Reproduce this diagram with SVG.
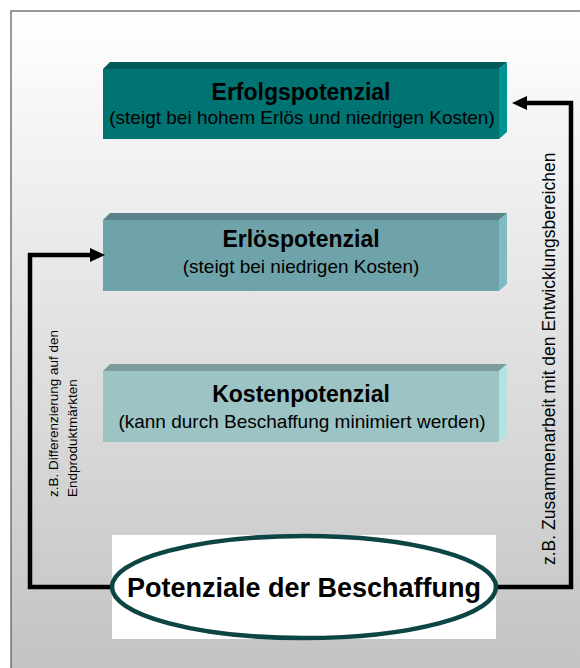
<svg xmlns="http://www.w3.org/2000/svg" width="580" height="668" viewBox="0 0 580 668">
  <defs>
    <linearGradient id="bg" x1="0" y1="0" x2="0" y2="1">
      <stop offset="0" stop-color="#ffffff"/>
      <stop offset="1" stop-color="#bfbfbf"/>
    </linearGradient>
    <marker id="arrow" markerUnits="userSpaceOnUse" markerWidth="16" markerHeight="16" refX="7" refY="7" orient="auto">
      <path d="M0,0 L15,7 L0,14 z" fill="#000"/>
    </marker>
    <style>
      .title { font-family: "Liberation Sans", Arial, sans-serif; font-weight: bold; font-size: 23px; fill: #000; text-anchor: middle; }
      .ell { font-family: "Liberation Sans", Arial, sans-serif; font-weight: bold; font-size: 27px; fill: #000; text-anchor: middle; }
      .sub { font-family: "Liberation Sans", Arial, sans-serif; font-size: 19px; fill: #000; text-anchor: middle; }
      .lbl { font-family: "Liberation Sans", Arial, sans-serif; fill: #000; }
      .conn { fill: none; stroke: #000; stroke-width: 4.5; }
    </style>
  </defs>
  <rect x="0" y="0" width="580" height="668" fill="#ffffff"/>
  <rect x="11" y="11" width="600" height="700" fill="url(#bg)" stroke="#555" stroke-width="1.2"/>

  <g id="erfolgspotenzial">
    <polygon points="103,69 110,62 507,62 499,69" fill="#005a5a"/>
    <polygon points="499,69 507,62 507,132 499,139" fill="#009292"/>
    <rect x="103" y="69" width="396" height="70" fill="#007373"/>
    <text class="title" x="301" y="100">Erfolgspotenzial</text>
    <text class="sub" x="302" y="124">(steigt bei hohem Erlös und niedrigen Kosten)</text>
  </g>

  <g id="erloespotenzial">
    <polygon points="103,220 110,213 507,213 499,220" fill="#5b8289"/>
    <polygon points="499,220 507,213 507,284 499,291" fill="#80bac3"/>
    <rect x="103" y="220" width="396" height="71" fill="#6fa3aa"/>
    <text class="title" x="301" y="247">Erlöspotenzial</text>
    <text class="sub" x="301" y="273">(steigt bei niedrigen Kosten)</text>
  </g>

  <g id="kostenpotenzial">
    <polygon points="103,371 110,364 507,364 499,371" fill="#7c9c9c"/>
    <polygon points="499,371 507,364 507,435 499,442" fill="#b2e2e2"/>
    <rect x="103" y="371" width="396" height="71" fill="#9cc4c4"/>
    <text class="title" x="301" y="402">Kostenpotenzial</text>
    <text class="sub" x="302" y="428">(kann durch Beschaffung minimiert werden)</text>
  </g>

  <g id="connectors">
    <path class="conn" d="M112,587 H30 V255 H97" marker-end="url(#arrow)"/>
    <path class="conn" d="M496,587 H571 V103 H520" marker-end="url(#arrow)"/>
    <text class="lbl" font-size="13.5" transform="translate(58,497) rotate(-90)"><tspan x="0" y="0">z.B.  Differenzierung auf den</tspan><tspan x="0" y="19">Endproduktmärkten</tspan></text>
    <text class="lbl" font-size="17.5" transform="translate(555,565) rotate(-90)">z.B.  Zusammenarbeit mit den Entwicklungsbereichen</text>
  </g>

  <g id="potenziale">
    <rect x="112" y="535" width="384" height="104" fill="#ffffff"/>
    <ellipse cx="304" cy="587" rx="192" ry="51" fill="#ffffff" stroke="#0d4545" stroke-width="4.5"/>
    <text class="ell" x="304" y="597">Potenziale der Beschaffung</text>
  </g>
</svg>
